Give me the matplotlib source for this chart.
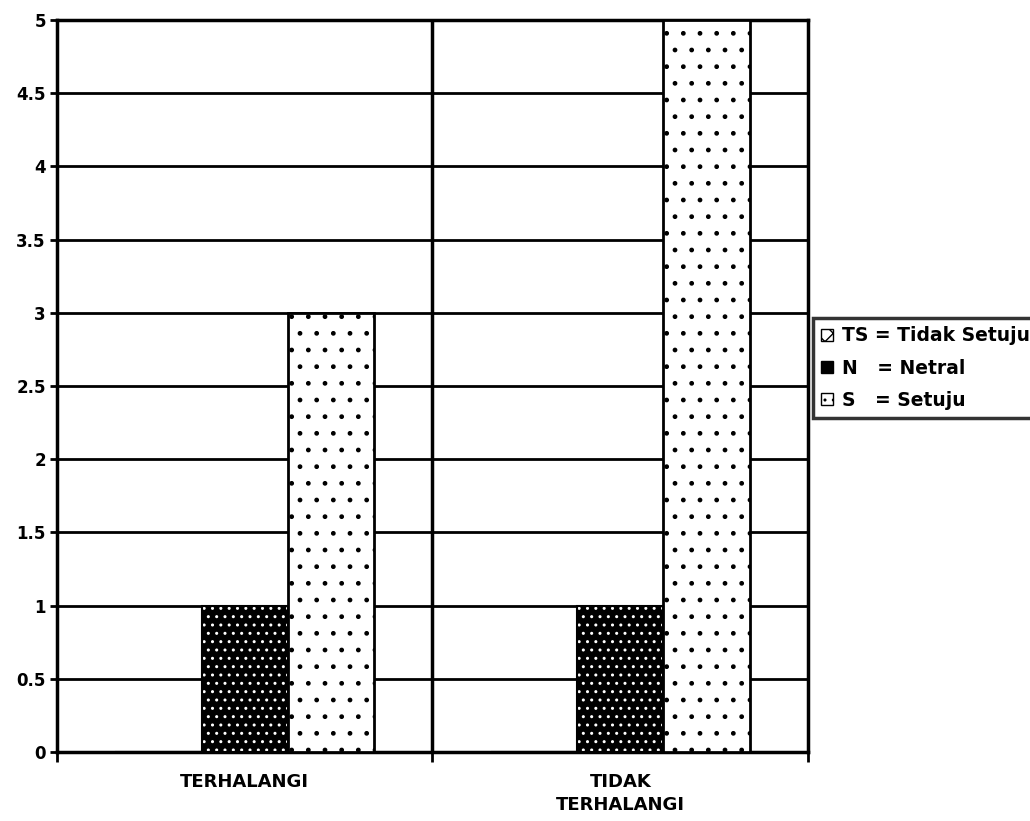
import numpy as np
import matplotlib.pyplot as plt
from matplotlib.patches import Patch

plt.rcParams['font.family'] = ['DejaVu Sans']
plt.rcParams['font.weight'] = 'bold'
plt.rcParams['hatch.linewidth'] = 1.0

categories = ['TERHALANGI', 'TIDAK\nTERHALANGI']
ts_values = [0, 0]
n_values = [1, 1]
s_values = [3, 5]
legend_labels = ['TS = Tidak Setuju', 'N   = Netral', 'S   = Setuju']

fig = plt.figure(figsize=(10.3, 8.21), dpi=100)
ax = fig.add_axes([0.0553, 0.084, 0.7292, 0.8916])

x = np.arange(len(categories))
w = 0.23

# TS bars (zero height)
ax.bar(x - w, ts_values, w, facecolor='white', edgecolor='black', hatch='xx', linewidth=1.5, zorder=3)
# N bars: black fill, white dots
ax.bar(x, n_values, w, facecolor='black', edgecolor='white', hatch='..', linewidth=0, zorder=3)
ax.bar(x, n_values, w, facecolor='none', edgecolor='black', linewidth=1.5, zorder=4)
# S bars: white fill, black dots
ax.bar(x + w, s_values, w, facecolor='white', edgecolor='black', hatch='.', linewidth=2, zorder=3)

ax.set_xlim(-0.5, 1.5)
ax.set_ylim(0, 5)
ax.set_yticks(np.arange(0, 5.01, 0.5))
ax.set_yticklabels(['0', '0.5', '1', '1.5', '2', '2.5', '3', '3.5', '4', '4.5', '5'], fontsize=12)
ax.yaxis.grid(True, color='black', linewidth=2)
ax.set_axisbelow(True)

ax.set_xticks(x)
ax.set_xticklabels(categories, fontsize=13, linespacing=1.4)
ax.tick_params(axis='x', length=0, pad=15)
ax.set_xticks([-0.5, 0.5, 1.5], minor=True)
ax.tick_params(axis='x', which='minor', length=7, width=2)
ax.tick_params(axis='y', length=5, width=2, pad=3)

# divider between the two groups
ax.axvline(0.5, color='black', linewidth=2.5, zorder=2)

for sp in ax.spines.values():
    sp.set_linewidth(2.5)

handles = [
    Patch(facecolor='white', edgecolor='black', hatch='xx'),
    Patch(facecolor='black', edgecolor='black'),
    Patch(facecolor='white', edgecolor='black', hatch='..'),
]
leg = fig.legend(handles, legend_labels, loc='upper left',
                 bbox_to_anchor=(813 / 1030, 1 - 318 / 821),
                 fontsize=13.5, frameon=True, fancybox=False,
                 handlelength=0.6, handleheight=0.6, handletextpad=0.5,
                 labelspacing=0.7, borderpad=0.45, borderaxespad=0)
leg.get_frame().set_edgecolor('black')
leg.get_frame().set_linewidth(2.5)

fig.savefig('out.png', dpi=100)
